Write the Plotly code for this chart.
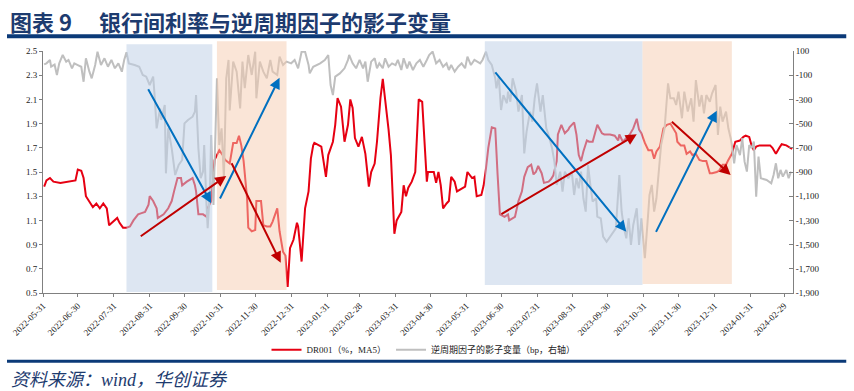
import plotly.graph_objects as go

# ---------------- data ----------------
red_dates = [
    "2022-06-01", "2022-06-03", "2022-06-06", "2022-06-09", "2022-06-15", "2022-06-21", "2022-06-25", "2022-06-28",
    "2022-06-30", "2022-07-03", "2022-07-05", "2022-07-07", "2022-07-11", "2022-07-13", "2022-07-16", "2022-07-19",
    "2022-07-22", "2022-07-25", "2022-07-27", "2022-07-31", "2022-08-03", "2022-08-05", "2022-08-08", "2022-08-11",
    "2022-08-14", "2022-08-17", "2022-08-21", "2022-08-24", "2022-08-27", "2022-08-30", "2022-08-31", "2022-09-03",
    "2022-09-06", "2022-09-07", "2022-09-12", "2022-09-16", "2022-09-19", "2022-09-21", "2022-09-24", "2022-09-27",
    "2022-09-28", "2022-10-02", "2022-10-07", "2022-10-09", "2022-10-10", "2022-10-12", "2022-10-16", "2022-10-19",
    "2022-10-20", "2022-10-23", "2022-10-26", "2022-10-30", "2022-11-02", "2022-11-04", "2022-11-08", "2022-11-11",
    "2022-11-14", "2022-11-16", "2022-11-18", "2022-11-20", "2022-11-23", "2022-11-24", "2022-11-27", "2022-11-30",
    "2022-12-01", "2022-12-05", "2022-12-07", "2022-12-10", "2022-12-13", "2022-12-15", "2022-12-19", "2022-12-21",
    "2022-12-24", "2022-12-26", "2022-12-28", "2022-12-30", "2023-01-02", "2023-01-05", "2023-01-06", "2023-01-09",
    "2023-01-12", "2023-01-15", "2023-01-17", "2023-01-19", "2023-01-20", "2023-01-26", "2023-01-30", "2023-02-01",
    "2023-02-05", "2023-02-07", "2023-02-09", "2023-02-12", "2023-02-14", "2023-02-15", "2023-02-18", "2023-02-20",
    "2023-02-22", "2023-02-24", "2023-02-27", "2023-03-02", "2023-03-05", "2023-03-08", "2023-03-10", "2023-03-13",
    "2023-03-15", "2023-03-17", "2023-03-18", "2023-03-20", "2023-03-22", "2023-03-25", "2023-03-27", "2023-03-30",
    "2023-04-01", "2023-04-05", "2023-04-07", "2023-04-09", "2023-04-11", "2023-04-14", "2023-04-17", "2023-04-19",
    "2023-04-20", "2023-04-23", "2023-04-25", "2023-04-27", "2023-04-28", "2023-05-03", "2023-05-05", "2023-05-07",
    "2023-05-09", "2023-05-11", "2023-05-14", "2023-05-16", "2023-05-18", "2023-05-21", "2023-05-23", "2023-05-27",
    "2023-05-30", "2023-06-01", "2023-06-05", "2023-06-07", "2023-06-09", "2023-06-13", "2023-06-15", "2023-06-17",
    "2023-06-19", "2023-06-22", "2023-06-25", "2023-06-27", "2023-06-29", "2023-07-03", "2023-07-06", "2023-07-07",
    "2023-07-12", "2023-07-15", "2023-07-18", "2023-07-20", "2023-07-23", "2023-07-26", "2023-07-28", "2023-07-30",
    "2023-08-01", "2023-08-04", "2023-08-06", "2023-08-10", "2023-08-12", "2023-08-14", "2023-08-17", "2023-08-18",
    "2023-08-21", "2023-08-24", "2023-08-27", "2023-08-28", "2023-09-01", "2023-09-03", "2023-09-05", "2023-09-07",
    "2023-09-09", "2023-09-12", "2023-09-14", "2023-09-17", "2023-09-20", "2023-09-21", "2023-09-25", "2023-09-27",
    "2023-10-02", "2023-10-06", "2023-10-09", "2023-10-10", "2023-10-13", "2023-10-19", "2023-10-22", "2023-10-25",
    "2023-10-27", "2023-10-29", "2023-11-01", "2023-11-04", "2023-11-07", "2023-11-09", "2023-11-11", "2023-11-14",
    "2023-11-17", "2023-11-20", "2023-11-23", "2023-11-25", "2023-11-28", "2023-11-29", "2023-12-02", "2023-12-05",
    "2023-12-07", "2023-12-10", "2023-12-12", "2023-12-15", "2023-12-18", "2023-12-21", "2023-12-24", "2023-12-27",
    "2023-12-29", "2024-01-02", "2024-01-04", "2024-01-07", "2024-01-10", "2024-01-12", "2024-01-15", "2024-01-18",
    "2024-01-22", "2024-01-25", "2024-01-27", "2024-01-30", "2024-02-01", "2024-02-03", "2024-02-05", "2024-02-08",
    "2024-02-12", "2024-02-17", "2024-02-19", "2024-02-22", "2024-02-25", "2024-02-27", "2024-03-02", "2024-03-05",
    "2024-03-07",
]
red_values = [
    1.38, 1.43, 1.45, 1.42, 1.41, 1.42, 1.43, 1.43,
    1.52, 1.51, 1.45, 1.30, 1.24, 1.21, 1.24, 1.20,
    1.24, 1.20, 1.06, 1.09, 1.12, 1.08, 1.04, 1.04,
    1.05, 1.10, 1.15, 1.16, 1.17, 1.23, 1.30, 1.26,
    1.20, 1.12, 1.15, 1.20, 1.26, 1.34, 1.45, 1.45,
    1.39, 1.42, 1.45, 1.39, 1.34, 1.15, 1.15, 1.13,
    1.20, 1.26, 1.60, 1.68, 1.64, 1.60, 1.57, 1.74,
    1.74, 1.80, 1.72, 1.59, 1.28, 1.04, 1.01, 1.02,
    1.26, 1.26, 1.06, 1.05, 1.05, 1.09, 1.20, 1.01,
    0.84, 0.81, 0.55, 0.87, 0.94, 1.08, 1.05, 0.76,
    1.20, 1.34, 1.61, 1.72, 1.74, 1.71, 1.46, 1.64,
    1.75, 1.89, 2.11, 2.04, 1.81, 1.75, 1.89, 2.10,
    2.03, 1.78, 1.71, 1.79, 1.65, 1.38, 1.50, 1.57,
    1.75, 2.04, 2.11, 2.27, 2.11, 1.85, 1.64, 0.99,
    1.10, 1.17, 1.39, 1.30, 1.37, 1.42, 1.50, 1.86,
    2.10, 2.08, 1.75, 1.42, 1.50, 1.50, 1.41, 1.50,
    1.39, 1.20, 1.24, 1.26, 1.46, 1.42, 1.34, 1.36,
    1.38, 1.50, 1.45, 1.46, 1.30, 1.31, 1.39, 1.53,
    1.70, 1.87, 1.86, 1.48, 1.15, 1.13, 1.15, 1.10,
    1.13, 1.26, 1.34, 1.46, 1.54, 1.56, 1.48, 1.50,
    1.55, 1.49, 1.41, 1.42, 1.44, 1.47, 1.59, 1.81,
    1.89, 1.82, 1.85, 1.87, 1.91, 1.81, 1.64, 1.59,
    1.67, 1.76, 1.75, 1.75, 1.85, 1.89, 1.82, 1.81,
    1.81, 1.80, 1.76, 1.81, 1.75, 1.81, 1.86, 1.94,
    1.85, 1.82, 1.74, 1.68, 1.68, 1.61, 1.67, 1.71,
    1.86, 1.89, 1.90, 1.87, 1.82, 1.75, 1.72, 1.72,
    1.65, 1.67, 1.64, 1.65, 1.60, 1.59, 1.59, 1.49,
    1.49, 1.50, 1.51, 1.56, 1.56, 1.60, 1.65, 1.75,
    1.76, 1.79, 1.80, 1.79, 1.72, 1.68, 1.71, 1.72,
    1.72, 1.72, 1.70, 1.65, 1.70, 1.73, 1.72, 1.70,
    1.69,
]

gray_dates = [
    "2022-06-01", "2022-06-03", "2022-06-06", "2022-06-07", "2022-06-10", "2022-06-12", "2022-06-14", "2022-06-17",
    "2022-06-20", "2022-06-22", "2022-06-25", "2022-06-27", "2022-06-30", "2022-07-03", "2022-07-05", "2022-07-07",
    "2022-07-10", "2022-07-12", "2022-07-15", "2022-07-17", "2022-07-20", "2022-07-23", "2022-07-26", "2022-07-29",
    "2022-08-01", "2022-08-04", "2022-08-07", "2022-08-09", "2022-08-11", "2022-08-13", "2022-08-18", "2022-08-22",
    "2022-08-25", "2022-08-28", "2022-08-31", "2022-09-03", "2022-09-04", "2022-09-06", "2022-09-09", "2022-09-10",
    "2022-09-13", "2022-09-14", "2022-09-16", "2022-09-19", "2022-09-22", "2022-09-25", "2022-09-28", "2022-09-30",
    "2022-10-03", "2022-10-07", "2022-10-09", "2022-10-10", "2022-10-12", "2022-10-14", "2022-10-16", "2022-10-17",
    "2022-10-19", "2022-10-20", "2022-10-22", "2022-10-23", "2022-10-25", "2022-10-26", "2022-10-28", "2022-10-30",
    "2022-11-01", "2022-11-03", "2022-11-05", "2022-11-07", "2022-11-08", "2022-11-11", "2022-11-14", "2022-11-17",
    "2022-11-19", "2022-11-21", "2022-11-24", "2022-11-27", "2022-11-30", "2022-12-01", "2022-12-04", "2022-12-07",
    "2022-12-10", "2022-12-13", "2022-12-15", "2022-12-19", "2022-12-21", "2022-12-24", "2022-12-27", "2022-12-31",
    "2023-01-03", "2023-01-06", "2023-01-09", "2023-01-12", "2023-01-15", "2023-01-16", "2023-01-19", "2023-01-25",
    "2023-01-29", "2023-02-01", "2023-02-03", "2023-02-05", "2023-02-07", "2023-02-11", "2023-02-15", "2023-02-18",
    "2023-02-19", "2023-02-22", "2023-02-25", "2023-02-28", "2023-03-03", "2023-03-05", "2023-03-07", "2023-03-10",
    "2023-03-13", "2023-03-15", "2023-03-17", "2023-03-20", "2023-03-22", "2023-03-25", "2023-03-28", "2023-03-31",
    "2023-04-02", "2023-04-05", "2023-04-07", "2023-04-10", "2023-04-12", "2023-04-15", "2023-04-18", "2023-04-21",
    "2023-04-24", "2023-04-27", "2023-04-29", "2023-05-02", "2023-05-05", "2023-05-08", "2023-05-11", "2023-05-14",
    "2023-05-16", "2023-05-18", "2023-05-21", "2023-05-24", "2023-05-27", "2023-05-30", "2023-06-01", "2023-06-04",
    "2023-06-07", "2023-06-12", "2023-06-14", "2023-06-17", "2023-06-19", "2023-06-22", "2023-06-25", "2023-06-26",
    "2023-06-28", "2023-06-30", "2023-07-02", "2023-07-05", "2023-07-06", "2023-07-08", "2023-07-10", "2023-07-13",
    "2023-07-15", "2023-07-18", "2023-07-20", "2023-07-22", "2023-07-25", "2023-07-27", "2023-07-29", "2023-07-31",
    "2023-08-03", "2023-08-05", "2023-08-08", "2023-08-10", "2023-08-13", "2023-08-15", "2023-08-17", "2023-08-20",
    "2023-08-22", "2023-08-24", "2023-08-27", "2023-08-30", "2023-09-01", "2023-09-03", "2023-09-05", "2023-09-07",
    "2023-09-09", "2023-09-11", "2023-09-13", "2023-09-15", "2023-09-17", "2023-09-20", "2023-09-21", "2023-09-24",
    "2023-09-26", "2023-09-29", "2023-10-03", "2023-10-07", "2023-10-10", "2023-10-12", "2023-10-14", "2023-10-16",
    "2023-10-18", "2023-10-20", "2023-10-22", "2023-10-25", "2023-10-27", "2023-10-29", "2023-10-30", "2023-11-01",
    "2023-11-04", "2023-11-05", "2023-11-07", "2023-11-09", "2023-11-11", "2023-11-13", "2023-11-15", "2023-11-18",
    "2023-11-21", "2023-11-23", "2023-11-26", "2023-11-28", "2023-11-30", "2023-12-03", "2023-12-05", "2023-12-08",
    "2023-12-11", "2023-12-13", "2023-12-15", "2023-12-18", "2023-12-20", "2023-12-22", "2023-12-24", "2023-12-27",
    "2023-12-29", "2024-01-01", "2024-01-03", "2024-01-05", "2024-01-07", "2024-01-10", "2024-01-12", "2024-01-14",
    "2024-01-15", "2024-01-17", "2024-01-19", "2024-01-22", "2024-01-24", "2024-01-26", "2024-01-28", "2024-01-30",
    "2024-02-01", "2024-02-03", "2024-02-05", "2024-02-07", "2024-02-09", "2024-02-14", "2024-02-18", "2024-02-20",
    "2024-02-22", "2024-02-24", "2024-02-26", "2024-02-28", "2024-03-02", "2024-03-04", "2024-03-06",
]
gray_values = [
    -10, -2, 26, -30, -13, -98, -2, 67,
    12, 26, -43, -2, -16, -30, -154, 40,
    -71, -126, -16, 94, -16, 40, -30, 26,
    -43, -2, -71, 26, 90, -2, -16, -30,
    -98, -112, -181, -112, -236, -539, -374, -470,
    -346, -911, -539, -704, -925, -842, -801, -498,
    -470, -443, -401, -264, -704, -952, -897, -677,
    -1173, -1365, -1035, -594, -1173, -815, -126, -677,
    -539, -952, -126, 26, -391, 12, -71, -374,
    12, -208, 67, -98, 94, -291, 12, -71,
    -126, 26, -71, -98, 53, -16, 12, -2,
    26, -43, 94, 94, -16, -85, -30, -2,
    26, 67, -181, -264, -112, -85, -43, 26,
    67, -2, -43, 26, -43, 12, -154, 12,
    40, -43, -2, -43, 40, -30, -2, -16,
    26, -57, 40, -43, 12, -57, -2, 26,
    -30, 26, 67, 95, -2, 26, -30, -2,
    -57, -16, -71, -30, -2, -43, 53, -16,
    26, -2, 26, 94, 26, -16, -126, -208,
    -112, -388, -264, -332, -236, -319, -126, -236,
    -401, -264, -746, -566, -401, -484, -291, -167,
    -401, -264, -539, -594, -704, -815, -1007, -897,
    -1062, -897, -952, -897, -1090, -952, -1035, -897,
    -1117, -1228, -842, -1007, -1145, -1117, -1269, -1283,
    -1434, -1476, -1421, -1366, -925, -1228, -1366, -1448,
    -1283, -1503, -1338, -1200, -1503, -1283, -1393, -1613,
    -1228, -1090, -1007, -1228, -1117, -897, -677, -539,
    -167, -291, -291, -346, -236, -456, -236, -401,
    -291, -484, -140, -360, -264, -415, -264, -319,
    -250, -181, -594, -360, -484, -401, -539, -621,
    -677, -828, -677, -760, -621, -815, -897, -677,
    -704, -649, -1104, -773, -952, -966, -994, -925,
    -828, -952, -883, -938, -883, -952, -897,
]

# tick labels
x_tick_dates = [
    "2022-05-31", "2022-06-30", "2022-07-31", "2022-08-31", "2022-09-30", "2022-10-31", "2022-11-30",
    "2022-12-31", "2023-01-31", "2023-02-28", "2023-03-31", "2023-04-30", "2023-05-31", "2023-06-30",
    "2023-07-31", "2023-08-31", "2023-09-30", "2023-10-31", "2023-11-30", "2023-12-31", "2024-01-31",
    "2024-02-29",
]
left_ticks = [0.5, 0.7, 0.9, 1.1, 1.3, 1.5, 1.7, 1.9, 2.1, 2.3, 2.5]
right_ticks = [100, -100, -300, -500, -700, -900, -1100, -1300, -1500, -1700, -1900]
right_tick_text = ["100", "-100", "-300", "-500", "-700", "-900", "-1,100", "-1,300", "-1,500", "-1,700", "-1,900"]

# shaded periods (easing = blue, tightening = peach)
period_starts = ["2022-08-11", "2022-10-28", "2023-06-16", "2023-10-30"]
period_ends = ["2022-10-24", "2022-12-27", "2023-10-30", "2024-01-15"]
period_kinds = ["blue", "peach", "blue", "peach"]

# trend arrows: (tail date, tail value, head date, head value, colour) on left axis scale
arrow_tail_dates = ["2022-08-29", "2022-08-22", "2022-10-30", "2022-11-09",
                    "2023-06-24", "2023-06-29", "2023-11-10", "2023-11-23"]
arrow_tail_vals = [2.197, 0.960, 1.269, 1.585, 2.335, 1.145, 0.993, 1.927]
arrow_head_dates = ["2022-10-23", "2022-11-05", "2022-12-21", "2022-12-22",
                    "2023-10-16", "2023-10-25", "2024-01-02", "2024-01-14"]
arrow_head_vals = [1.241, 1.467, 2.279, 0.750, 1.007, 1.811, 2.007, 1.475]
arrow_kinds = ["blue", "red", "blue", "red", "blue", "red", "blue", "red"]

# ---------------- figure ----------------
NAVY = "#1d3b6f"
AXIS = "#808080"
SERIF = "Liberation Serif, Noto Sans CJK SC, serif"

fig = go.Figure()
fig.add_trace(go.Scatter(
    x=red_dates, y=red_values, mode="lines", name="DR001（%，MA5）",
    line=dict(color="#e60012", width=2), yaxis="y",
))
fig.add_trace(go.Scatter(
    x=gray_dates, y=gray_values, mode="lines", name="逆周期因子的影子变量（bp，右轴）",
    line=dict(color="#bfbfbf", width=2), yaxis="y2",
))

shade_fill = {"blue": "rgba(190,207,230,0.53)", "peach": "rgba(245,203,175,0.5)"}
shade_top = [1.028, 1.04, 1.04, 1.04]
shade_bot = [0.004, 0.012, 0.033, 0.037]
shapes = []
for s, e, k, t, b in zip(period_starts, period_ends, period_kinds, shade_top, shade_bot):
    shapes.append(dict(type="rect", xref="x", yref="paper", x0=s, x1=e, y0=b, y1=t,
                       fillcolor=shade_fill[k], line=dict(width=0), layer="above"))
# header / footer rules
shapes.append(dict(type="line", xref="paper", yref="paper", x0=-0.048, x1=1.071, y0=1.061, y1=1.061,
                   line=dict(color="#0b3a78", width=4)))
shapes.append(dict(type="line", xref="paper", yref="paper", x0=-0.048, x1=1.071, y0=-0.282, y1=-0.282,
                   line=dict(color="#0b3a78", width=3)))

arrow_color = {"blue": "#0070c0", "red": "#c00000"}
annotations = []
for td, tv, hd, hv, k in zip(arrow_tail_dates, arrow_tail_vals, arrow_head_dates, arrow_head_vals, arrow_kinds):
    annotations.append(dict(x=hd, y=hv, ax=td, ay=tv, xref="x", yref="y", axref="x", ayref="y",
                            text="", showarrow=True, arrowhead=2, arrowsize=1.1, arrowwidth=2,
                            arrowcolor=arrow_color[k], standoff=0))

annotations.append(dict(text="<b>图表 9</b>", xref="paper", yref="paper", x=-0.047, y=1.124,
                        xanchor="left", yanchor="middle", showarrow=False,
                        font=dict(family="Noto Sans CJK SC", size=22, color=NAVY)))
annotations.append(dict(text="<b>银行间利率与逆周期因子的影子变量</b>", xref="paper", yref="paper",
                        x=0.072, y=1.124, xanchor="left", yanchor="middle", showarrow=False,
                        font=dict(family="Noto Sans CJK SC", size=22, color=NAVY)))
annotations.append(dict(text="<i>资料来源：wind，华创证券</i>", xref="paper", yref="paper",
                        x=-0.045, y=-0.36, xanchor="left", yanchor="middle", showarrow=False,
                        font=dict(family="Liberation Serif, Noto Sans CJK SC", size=18, color=NAVY)))

fig.update_layout(
    width=854, height=391,
    margin=dict(l=43, r=61, t=51, b=98),
    paper_bgcolor="white", plot_bgcolor="white",
    showlegend=True,
    legend=dict(orientation="h", x=0.298, y=-0.235, xanchor="left", yanchor="middle",
                font=dict(family=SERIF, size=9, color="#222"), itemwidth=30,
                bgcolor="rgba(0,0,0,0)"),
    xaxis=dict(
        type="date", range=["2022-05-31", "2024-03-07 18:00"],
        tickmode="array", tickvals=x_tick_dates, ticktext=x_tick_dates, tickangle=-45,
        showline=True, linecolor=AXIS, linewidth=1, ticks="outside", ticklen=3, tickcolor=AXIS,
        showgrid=False, zeroline=False,
        tickfont=dict(family=SERIF, size=9, color="#222"),
    ),
    yaxis=dict(
        range=[0.5, 2.5], tickmode="array", tickvals=left_ticks,
        ticktext=[f"{v:.1f}" for v in left_ticks],
        showline=True, linecolor=AXIS, linewidth=1, ticks="outside", ticklen=3, tickcolor=AXIS,
        showgrid=False, zeroline=False,
        tickfont=dict(family=SERIF, size=9, color="#222"),
    ),
    yaxis2=dict(
        range=[-1900, 100], overlaying="y", side="right", tickmode="array",
        tickvals=right_ticks, ticktext=right_tick_text,
        showline=True, linecolor=AXIS, linewidth=1, ticks="inside", ticklen=4, tickcolor=AXIS,
        showgrid=False, zeroline=False,
        tickfont=dict(family=SERIF, size=9, color="#222"),
    ),
    shapes=shapes,
    annotations=annotations,
)

fig.write_html("out.html", config={"displayModeBar": False},
               post_script="document.body.style.margin='0';document.body.style.overflow='hidden';")
